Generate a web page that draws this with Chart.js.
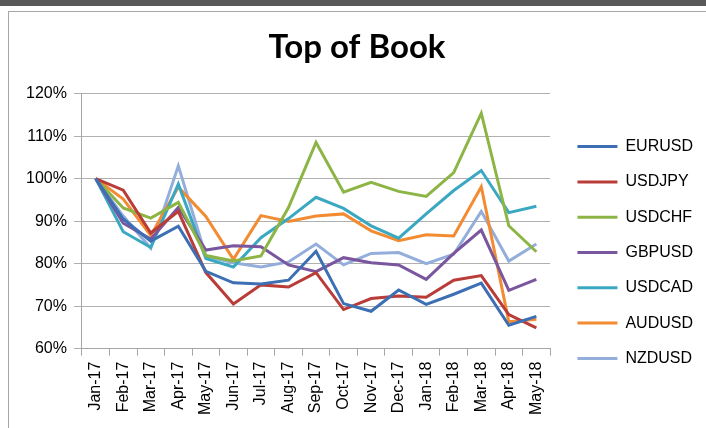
<!DOCTYPE html>
<html>
<head>
<meta charset="utf-8">
<script src="https://cdn.jsdelivr.net/npm/chart.js@4.4.1/dist/chart.umd.min.js"></script>
<style>
  html, body { margin: 0; padding: 0; background: #fff; }
  #wrap { position: relative; width: 706px; height: 428px; overflow: hidden; }
  #topbar { position: absolute; left: 0; top: 0; width: 706px; height: 6px; background: #595959; }
  #topline { position: absolute; left: 8px; top: 11px; width: 698px; height: 1px; background: #a6a6a6; }
  #leftline { position: absolute; left: 8px; top: 11px; width: 1px; height: 417px; background: #a6a6a6; }
  canvas { position: absolute; left: 0; top: 0; }
</style>
</head>
<body>
<div id="wrap">
  <canvas id="topOfBook" width="706" height="428"></canvas>
  <div id="topbar"></div>
  <div id="topline"></div>
  <div id="leftline"></div>
</div>
<script>
// Meses (eixo X)
const months = ['Jan-17', 'Feb-17', 'Mar-17', 'Apr-17', 'May-17', 'Jun-17', 'Jul-17', 'Aug-17',
                'Sep-17', 'Oct-17', 'Nov-17', 'Dec-17', 'Jan-18', 'Feb-18', 'Mar-18', 'Apr-18', 'May-18'];

// Valores em % (base Jan-17 = 100)
const eurusd = [100, 90.5, 85.3, 88.8, 78.2, 75.5, 75.2, 76.1, 82.9, 70.6, 68.8, 73.8, 70.4, 72.8, 75.4, 65.5, 67.6];
const usdjpy = [100, 97.3, 87.2, 92.3, 77.9, 70.5, 75.0, 74.5, 77.9, 69.2, 71.8, 72.4, 72.1, 76.1, 77.2, 68.0, 64.9];
const usdchf = [100, 93.1, 90.7, 94.4, 81.9, 80.6, 81.8, 93.2, 108.5, 96.8, 99.1, 97.0, 95.8, 101.4, 115.4, 88.9, 82.8];
const gbpusd = [100, 89.5, 85.8, 93.2, 83.2, 84.2, 84.0, 79.7, 78.1, 81.4, 80.2, 79.7, 76.3, 82.4, 87.9, 73.7, 76.3];
const usdcad = [100, 87.5, 83.8, 98.7, 81.2, 79.2, 86.1, 90.6, 95.6, 93.0, 88.9, 86.0, 91.7, 97.2, 101.9, 92.0, 93.5];
const audusd = [100, 95.2, 86.6, 98.0, 91.1, 81.0, 91.3, 89.9, 91.2, 91.7, 87.7, 85.4, 86.8, 86.5, 98.1, 66.3, 66.9];
const nzdusd = [100, 91.2, 83.6, 103.0, 81.8, 80.2, 79.2, 80.4, 84.6, 79.7, 82.4, 82.6, 80.0, 82.2, 92.3, 80.6, 84.6];

// Eixo Y
const yMin = 60, yMax = 120, yStep = 10;

const seriesNames = ['EURUSD', 'USDJPY', 'USDCHF', 'GBPUSD', 'USDCAD', 'AUDUSD', 'NZDUSD'];
const seriesData = [eurusd, usdjpy, usdchf, gbpusd, usdcad, audusd, nzdusd];
const seriesColors = ['#3c6fb4', '#b93c39', '#8db545', '#7a569e', '#3ba8c2', '#f38b33', '#94aedc'];

const TXT = '"Liberation Sans", Arial, sans-serif';

// Empurra a legenda um pouco para a direita/baixo (como no Excel)
const legendNudge = {
    id: 'legendNudge',
    afterLayout(chart) {
        const lg = chart.legend;
        if (!lg) return;
        lg.left += 8; lg.right += 8;
        lg.top += 36; lg.bottom += 36;
    }
};

const ctx = document.getElementById('topOfBook');
new Chart(ctx, {
    type: 'line',
    data: {
        labels: months,
        datasets: seriesNames.map((name, i) => ({
            label: name,
            data: seriesData[i],
            borderColor: seriesColors[i],
            backgroundColor: seriesColors[i],
            borderWidth: 3,
            pointRadius: 0,
            tension: 0,
            fill: false
        }))
    },
    plugins: [legendNudge],
    options: {
        responsive: false,
        animation: false,
        layout: { padding: { left: 19, right: 11, top: 12, bottom: 7 } },
        plugins: {
            title: {
                display: true,
                text: 'Top of Book',
                color: '#000',
                font: { family: 'Lato, sans-serif', size: 33, weight: 'bold' },
                padding: { top: 16, bottom: 26 }
            },
            legend: {
                position: 'right',
                labels: {
                    color: '#000',
                    font: { family: TXT, size: 16 },
                    boxWidth: 40,
                    boxHeight: 3,
                    padding: 19.3,
                    generateLabels: (chart) => Chart.defaults.plugins.legend.labels.generateLabels(chart)
                        .map(l => ({ ...l, lineWidth: 0, fillStyle: l.strokeStyle }))
                }
            },
            tooltip: { enabled: false }
        },
        scales: {
            x: {
                offset: true,
                grid: { offset: true, drawOnChartArea: false, color: '#a6a6a6', tickLength: 7 },
                border: { color: '#a6a6a6' },
                ticks: { color: '#000', font: { family: TXT, size: 16 }, minRotation: 90, maxRotation: 90, autoSkip: false, padding: 6 }
            },
            y: {
                min: yMin,
                max: yMax,
                grid: { color: '#b0b0b0', tickLength: 8 },
                border: { color: '#a6a6a6' },
                ticks: {
                    stepSize: yStep,
                    color: '#000',
                    font: { family: TXT, size: 16 },
                    padding: 7,
                    callback: (v) => v + '%'
                }
            }
        }
    }
});
</script>
</body>
</html>
